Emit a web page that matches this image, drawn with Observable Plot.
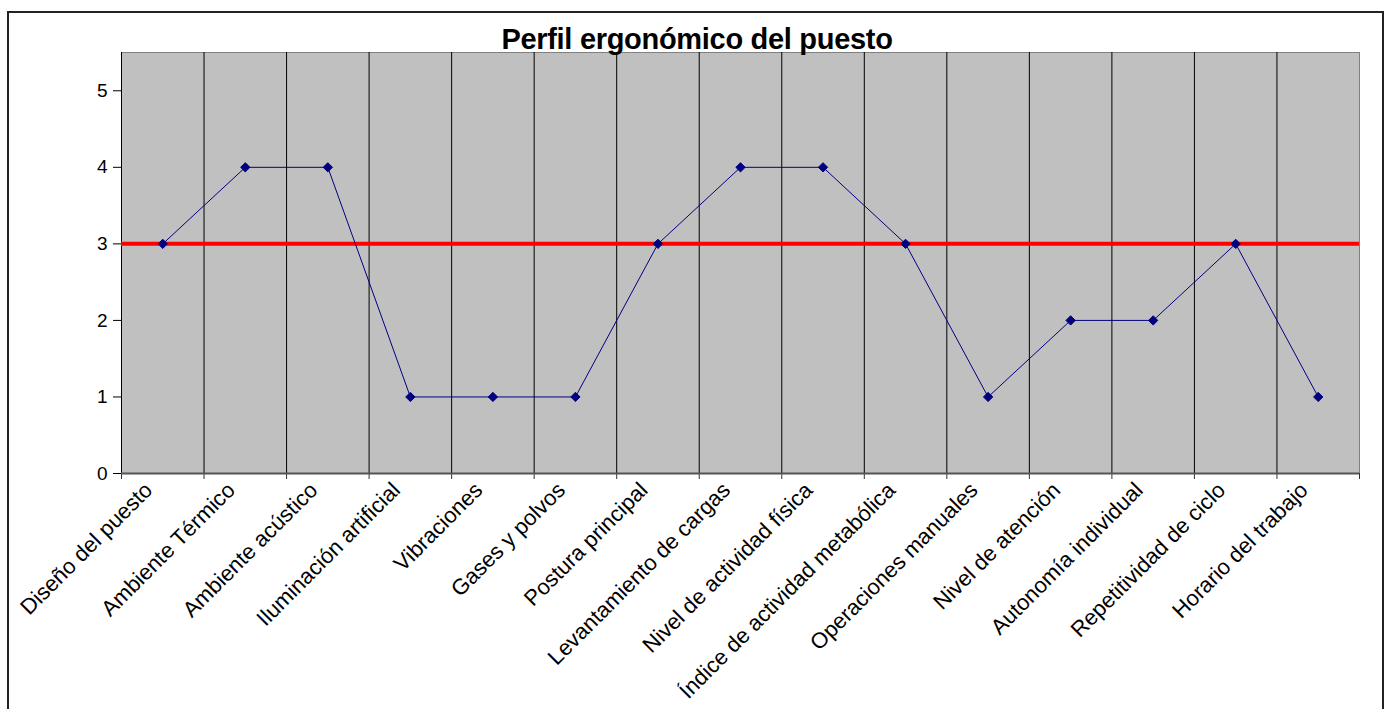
<!DOCTYPE html>
<html>
<head>
<meta charset="utf-8">
<script src="https://cdn.jsdelivr.net/npm/d3@7"></script>
<script src="https://cdn.jsdelivr.net/npm/@observablehq/plot@0.6"></script>
<style>
  html, body { margin: 0; padding: 0; background: #fff; }
  #wrap { position: relative; width: 1385px; height: 709px; overflow: hidden; font-family: "Liberation Sans", Arial, sans-serif; }
  #border { position: absolute; left: 7px; top: 11px; width: 1373px; height: 720px; border: 2px solid #222; pointer-events: none; }
  #title { position: absolute; left: 0; top: 25px; width: 1394px; text-align: center; font-size: 29px; line-height: 1; font-weight: bold; letter-spacing: -0.3px; color: #000; }
  #chart { position: absolute; left: 0; top: 0; }
</style>
</head>
<body>
<div id="wrap">
  <div id="chart"></div>
  <div id="border"></div>
  <div id="title">Perfil ergonómico del puesto</div>
</div>
<script>
const categories = [
  "Diseño del puesto",
  "Ambiente Térmico",
  "Ambiente acústico",
  "Iluminación artificial",
  "Vibraciones",
  "Gases y polvos",
  "Postura principal",
  "Levantamiento de cargas",
  "Nivel de actividad física",
  "Índice de actividad metabólica",
  "Operaciones manuales",
  "Nivel de atención",
  "Autonomía individual",
  "Repetitividad de ciclo",
  "Horario del trabajo"
];
const values = [3, 4, 4, 1, 1, 1, 3, 4, 4, 3, 1, 2, 2, 3, 1];
const threshold = [3];
const yTicks = [0, 1, 2, 3, 4, 5];

const data = categories.map((c, i) => ({cat: c, pos: i + 0.5, value: values[i]}));
const boundaries = d3.range(0, categories.length + 1);
const inner = d3.range(1, categories.length);

const chart = Plot.plot({
  width: 1385,
  height: 709,
  marginLeft: 121,
  marginRight: 26,
  marginTop: 52,
  marginBottom: 236,
  style: {fontFamily: "'Liberation Sans', Arial, sans-serif", background: "transparent", color: "#000"},
  x: {type: "linear", domain: [0, categories.length], axis: null},
  y: {domain: [0, 5.5], axis: null},
  marks: [
    Plot.frame({fill: "#c0c0c0", stroke: "#808080"}),
    Plot.ruleX(inner, {stroke: "#000", strokeWidth: 1}),
    Plot.ruleX([0], {stroke: "#000", strokeWidth: 1}),
    Plot.axisY({ticks: yTicks, tickFormat: () => "", tickSize: 8, stroke: "#000", label: null}),
    Plot.text(yTicks, {x: () => 0, y: (d) => d, text: (d) => String(d), textAnchor: "end", dx: -14, fontSize: 19, fill: "#000"}),
    Plot.axisX({ticks: boundaries, tickSize: 6, tickFormat: () => "", stroke: "#333", label: null}),
    Plot.ruleY([0], {stroke: "#555", strokeWidth: 2}),
    Plot.ruleY(threshold, {stroke: "#ff0000", strokeWidth: 4}),
    Plot.line(data, {x: "pos", y: "value", stroke: "#000080", strokeWidth: 1}),
    Plot.dot(data, {x: "pos", y: "value", symbol: "diamond2", fill: "#000080", stroke: "#000080", strokeWidth: 1, r: 4.2}),
    Plot.text(data, {
      x: "pos", y: () => 0, text: "cat",
      rotate: -45, textAnchor: "end", dx: -14, dy: 13,
      fontSize: 22, fill: "#000"
    })
  ]
});
document.getElementById("chart").appendChild(chart);
</script>
</body>
</html>
